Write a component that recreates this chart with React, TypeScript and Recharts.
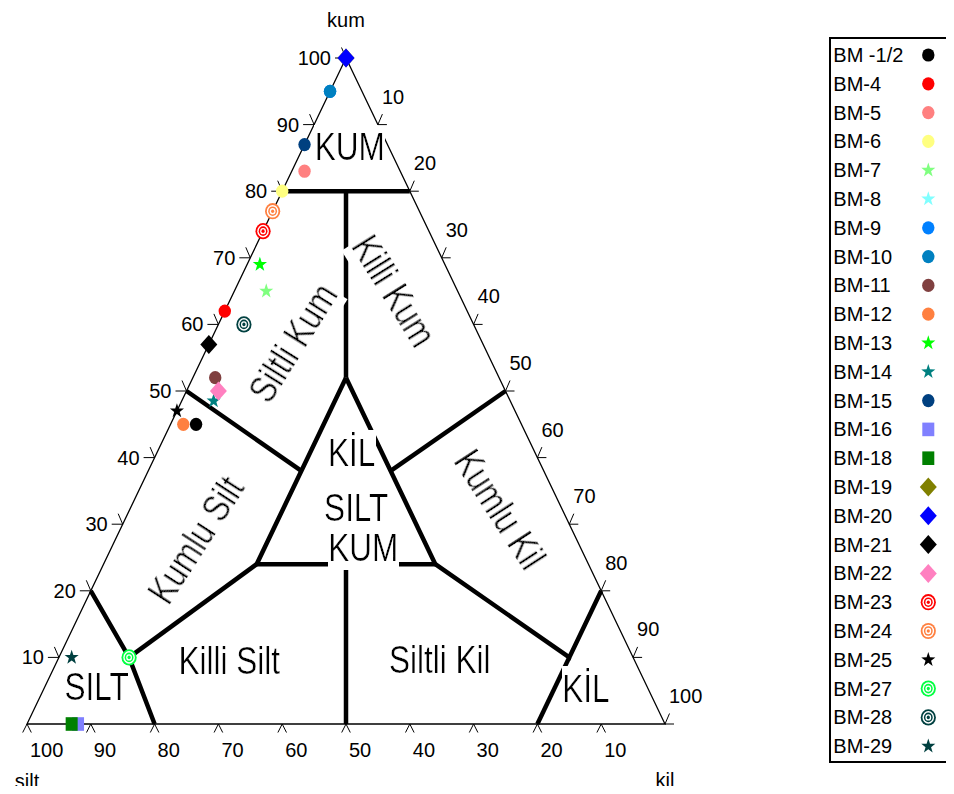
import { ScatterChart, Scatter, XAxis, YAxis } from "recharts";

// sample compositions (%)
const samples = ["BM -1/2", "BM-4", "BM-5", "BM-6", "BM-7", "BM-8", "BM-9", "BM-10", "BM-11", "BM-12", "BM-13", "BM-14", "BM-15", "BM-16", "BM-18", "BM-19", "BM-20", "BM-21", "BM-22", "BM-23", "BM-24", "BM-25", "BM-27", "BM-28", "BM-29"];
const kumValues = [45, 62, 83, 80, 65, 69, 95, 95, 52, 45, 69, 48.5, 87, 0, 0, 100, 100, 57, 50, 74, 77, 47, 10, 60, 10];
const siltValues = [51, 38, 15, 20, 30, 29, 5, 5, 44.5, 53, 29, 46.5, 13, 92, 93, 0, 0, 43, 45, 26, 23, 53, 79, 36, 88];
const kilValues = [4, 0, 2, 0, 5, 2, 0, 0, 3.5, 2, 2, 5, 0, 8, 7, 0, 0, 0, 5, 0, 0, 0, 11, 4, 2];

const tickValues = [10, 20, 30, 40, 50, 60, 70, 80, 90, 100];
const axisTitles = ["kum", "silt", "kil"];

// class boundaries as [kum, kil] polylines
const outline = [[100, 0], [0, 0], [0, 100], [100, 0]];
const boundaries = [
  [[80, 0], [80, 20]],
  [[80, 10], [52, 24]],
  [[50, 0], [38, 24]],
  [[50, 50], [38, 38]],
  [[52, 24], [24, 24], [24, 52], [52, 24]],
  [[24, 24], [10, 11]],
  [[20, 0], [10, 11], [0, 20]],
  [[24, 38], [0, 50]],
  [[24, 52], [10, 80], [20, 80]],
  [[10, 80], [0, 80]],
];

const regionNames = ["KUM", "Killi Kum", "Siltli Kum", "KİL", "SILT", "KUM", "Kumlu Silt", "Kumlu Kil", "Killi Silt", "Siltli Kil", "SILT", "KİL"];

// styling / layout
const markerShape = ["circle", "circle", "circle", "circle", "star", "star", "circle", "circle", "circle", "circle", "star", "star", "circle", "square", "square", "diamond", "diamond", "diamond", "diamond", "target", "target", "star", "target", "target", "star"];
const markerColor = ["#000000", "#ff0000", "#ff8080", "#ffff80", "#80ff80", "#80ffff", "#0080ff", "#0080c0", "#804040", "#ff8040", "#00ff00", "#008080", "#004080", "#8080ff", "#008000", "#808000", "#0000ff", "#000000", "#ff80c0", "#ff0000", "#ff8040", "#000000", "#00ff40", "#004040", "#004040"];
const regionPos = [
  { x: 50.6, y: 86.6, a: 0 },
  { x: 57.5, y: 65.0, a: 58 },
  { x: 41.7, y: 57.2, a: -58 },
  { x: 50.9, y: 40.7, a: 0 },
  { x: 51.6, y: 32.5, a: 0 },
  { x: 52.7, y: 26.5, a: 0 },
  { x: 26.5, y: 27.6, a: -57 },
  { x: 74.1, y: 32.2, a: 57 },
  { x: 31.7, y: 9.5, a: 0 },
  { x: 64.7, y: 9.6, a: 0 },
  { x: 10.9, y: 5.6, a: 0 },
  { x: 87.6, y: 5.3, a: 0 },
];

const FONT = "'Liberation Sans', Arial, sans-serif";

const toXY = (kum: number, kil: number) => ({ x: kil + kum / 2, y: kum });

const Marker = ({ kind, color, cx, cy }: any) => {
  if (kind === "circle") return <ellipse cx={cx} cy={cy} rx={6.2} ry={6.6} fill={color} />;
  if (kind === "square") return <rect x={cx - 6} y={cy - 6.8} width={12} height={13.6} fill={color} />;
  if (kind === "diamond")
    return <polygon points={`${cx},${cy - 9.5} ${cx + 8.5},${cy} ${cx},${cy + 9.5} ${cx - 8.5},${cy}`} fill={color} />;
  if (kind === "target")
    return (
      <g>
        <ellipse cx={cx} cy={cy} rx={7.6} ry={8.1} fill={color} />
        <ellipse cx={cx} cy={cy} rx={5.8} ry={6.3} fill="#fff" />
        <ellipse cx={cx} cy={cy} rx={4.4} ry={4.8} fill={color} />
        <ellipse cx={cx} cy={cy} rx={2.9} ry={3.2} fill="#fff" />
        <ellipse cx={cx} cy={cy} rx={1.6} ry={1.8} fill={color} />
      </g>
    );
  // star
  const pts: string[] = [];
  for (let i = 0; i < 10; i++) {
    const r = i % 2 === 0 ? 7.4 : 2.9;
    const ang = -Math.PI / 2 + (i * Math.PI) / 5;
    pts.push(`${cx + r * Math.cos(ang)},${cy + r * Math.sin(ang) * 1.05}`);
  }
  return <polygon points={pts.join(" ")} fill={color} />;
};

const TickShape = (p: any) => {
  const { cx, cy, payload } = p;
  const s = { stroke: "#000", strokeWidth: 1 };
  const t = { fontFamily: FONT, fontSize: 20, fill: "#000" };
  if (payload.side === "left")
    return (
      <g>
        <line x1={cx} y1={cy} x2={cx - 11} y2={cy} {...s} />
        <line x1={cx} y1={cy} x2={cx - 4.5} y2={cy - 10.5} {...s} />
        <text x={cx - 15} y={cy} textAnchor="end" dominantBaseline="central" {...t}>{payload.label}</text>
      </g>
    );
  if (payload.side === "right")
    return (
      <g>
        <line x1={cx} y1={cy} x2={cx + 9} y2={cy} {...s} />
        <line x1={cx} y1={cy} x2={cx + 4.5} y2={cy - 10.5} {...s} />
        <text x={cx + 4} y={cy - 28} textAnchor="start" dominantBaseline="central" {...t}>{payload.label}</text>
      </g>
    );
  return (
    <g>
      <line x1={cx} y1={cy} x2={cx - 4.3} y2={cy + 8.5} {...s} />
      <line x1={cx} y1={cy} x2={cx + 4.3} y2={cy + 8.5} {...s} />
      <text x={cx + 3} y={cy + 26} textAnchor="start" dominantBaseline="central" {...t}>{payload.label}</text>
    </g>
  );
};

const RegionLabel = (p: any) => {
  const { cx, cy, payload } = p;
  return (
    <text
      transform={`translate(${cx} ${cy}) rotate(${payload.a}) scale(1 1.24)`}
      x={0}
      y={0}
      textAnchor="middle"
      dominantBaseline="central"
      fontFamily={FONT}
      fontSize={31.5}
      fill="#000"
      filter="url(#txtbg)"
    >
      {payload.text}
    </text>
  );
};

const TitleShape = (p: any) => {
  const { cx, cy, payload } = p;
  return (
    <text x={cx} y={cy + payload.dy} textAnchor="middle" dominantBaseline="central" fontFamily={FONT} fontSize={20} fill="#000">
      {payload.text}
    </text>
  );
};

const hidden = () => <g />;

const App = () => {
  const tickData = [
    ...tickValues.map((v) => ({ ...toXY(v, 0), label: String(v), side: "left" })),
    ...tickValues.map((v) => ({ ...toXY(100 - v, v), label: String(v), side: "right" })),
    ...tickValues.map((v) => ({ ...toXY(0, 100 - v), label: String(v), side: "bottom" })),
  ];
  const titleData = [
    { ...toXY(100, 0), text: axisTitles[0], dy: -38 },
    { ...toXY(0, 0), text: axisTitles[1], dy: 57 },
    { ...toXY(0, 100), text: axisTitles[2], dy: 56 },
  ];
  const labelData = regionNames.map((text, i) => ({ ...regionPos[i], text }));

  return (
    <div style={{ position: "relative", width: 938, height: 778 }}>
      <svg width={0} height={0} style={{ position: "absolute" }}>
        <defs>
          <filter id="txtbg" x="0" y="0" width="1" height="1">
            <feFlood floodColor="#fff" result="bg" />
            <feMerge>
              <feMergeNode in="bg" />
              <feMergeNode in="SourceGraphic" />
            </feMerge>
          </filter>
        </defs>
      </svg>
      <ScatterChart width={938} height={786} margin={{ top: 50, right: 281, bottom: 70, left: 19 }}>
        <XAxis type="number" dataKey="x" domain={[0, 100]} hide />
        <YAxis type="number" dataKey="y" domain={[0, 100]} hide />
        <Scatter
          data={outline.map(([k, c]) => toXY(k, c))}
          line={{ stroke: "#000", strokeWidth: 1.3 }}
          lineType="joint"
          shape={hidden}
          isAnimationActive={false}
        />
        {boundaries.map((seg, i) => (
          <Scatter
            key={`b${i}`}
            data={seg.map(([k, c]) => toXY(k, c))}
            line={{ stroke: "#000", strokeWidth: 4.5, strokeLinejoin: "miter" }}
            lineType="joint"
            shape={hidden}
            isAnimationActive={false}
          />
        ))}
        <Scatter data={labelData} shape={RegionLabel} isAnimationActive={false} />
        <Scatter data={tickData} shape={TickShape} isAnimationActive={false} />
        <Scatter data={titleData} shape={TitleShape} isAnimationActive={false} />
        {samples.map((name, i) => (
          <Scatter
            key={name}
            name={name}
            data={[toXY(kumValues[i], kilValues[i])]}
            shape={(p: any) => <Marker kind={markerShape[i]} color={markerColor[i]} cx={p.cx} cy={p.cy} />}
            isAnimationActive={false}
          />
        ))}
      </ScatterChart>
      <svg width={125} height={726} style={{ position: "absolute", left: 821, top: 29 }}>
        <rect x={1} y={1} width={123} height={724} fill="#fff" stroke="#000" strokeWidth={2} />
        {samples.map((name, i) => (
          <g key={name}>
            <text x={4.3} y={18 + i * 28.8} dominantBaseline="central" fontFamily={FONT} fontSize={20} fill="#000">
              {name}
            </text>
            <Marker kind={markerShape[i]} color={markerColor[i]} cx={99.3} cy={18 + i * 28.8} />
          </g>
        ))}
      </svg>
    </div>
  );
};

export default App;
